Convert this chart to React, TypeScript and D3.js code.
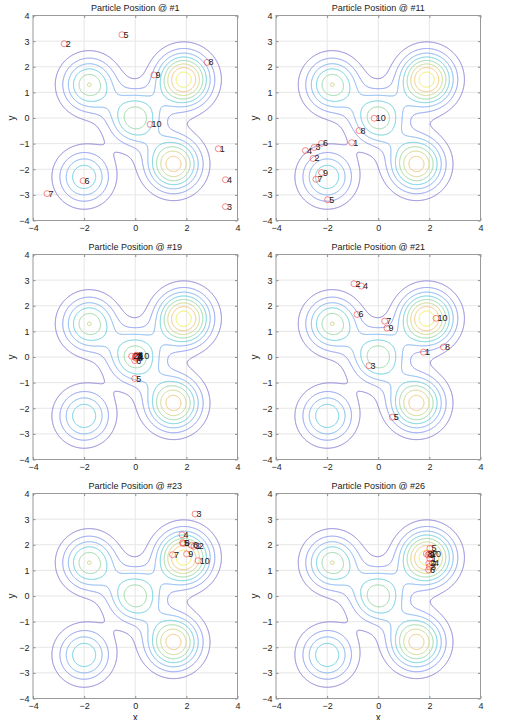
import React, { useRef, useEffect } from 'react';
import * as d3 from 'd3';

// surface = sum of gaussian bumps: a * exp(-r^2 / w)
const peakX = [1.9, 1.5, 0, -1.8, -2.0, -1.8];
const peakY = [1.5, -1.8, 0, 1.3, -2.3, 1.3];
const peakA = [8.7, 7.6, 5.8, 5.85, 4.9, 0.5];
const peakW = [1, 1, 1, 1, 1, 0.004];

const levels = [1, 2, 3, 4, 5, 6, 7, 8];
const levelColors = ['#857bd4', '#8494f0', '#7ab0f2', '#62cde0', '#96d8a4', '#cdd884', '#f6c67a', '#f4ee5e'];

const xTicks = [-4, -2, 0, 2, 4];
const yTicks = [-4, -3, -2, -1, 0, 1, 2, 3, 4];

const iterations = [1, 11, 19, 21, 23, 26];

const pos1X = [3.25, -2.78, 3.53, 3.53, -0.52, -2.04, -3.45, 2.81, 0.73, 0.58];
const pos1Y = [-1.2, 2.9, -3.46, -2.41, 3.25, -2.45, -2.95, 2.17, 1.68, -0.25];
const pos11X = [-1.04, -2.55, -2.51, -2.85, -1.98, -2.22, -2.44, -0.75, -2.22, -0.16];
const pos11Y = [-0.96, -1.58, -1.15, -1.27, -3.19, -0.99, -2.39, -0.49, -2.13, -0.01];
const pos19X = [0.04, -0.14, 0.02, 0.06, -0.02, -0.02, 0.0, 0.05, 0.03, 0.1];
const pos19Y = [0.03, 0.03, 0.05, -0.02, -0.84, -0.14, 0.0, 0.07, -0.05, 0.03];
const pos21X = [1.77, -0.95, -0.36, -0.66, 0.55, -0.83, 0.25, 2.55, 0.34, 2.26];
const pos21Y = [0.19, 2.86, -0.34, 2.77, -2.35, 1.66, 1.4, 0.39, 1.13, 1.51];
const pos23X = [2.3, 2.43, 2.34, 1.83, 1.85, 2.2, 1.46, 1.88, 2.01, 2.46];
const pos23Y = [1.94, 1.96, 3.2, 2.39, 2.08, 1.98, 1.61, 2.05, 1.64, 1.38];
const pos26X = [2.02, 1.98, 2.0, 2.12, 2.02, 1.97, 2.05, 1.88, 1.95, 2.0];
const pos26Y = [1.45, 1.27, 1.15, 1.28, 1.86, 1.02, 1.62, 1.65, 1.6, 1.65];

const panelX = [pos1X, pos11X, pos19X, pos21X, pos23X, pos26X];
const panelY = [pos1Y, pos11Y, pos19Y, pos21Y, pos23Y, pos26Y];

const colLeft = [33, 276];
const rowTop = [15.5, 254.5, 493.5];
const plotW = 204.5;
const plotH = 205;
const font = 'Liberation Sans, Arial, sans-serif';

const App = () => {
    const svgRef = useRef(null);

    useEffect(() => {
        const svg = d3.select(svgRef.current);
        svg.selectAll('*').remove();

        // sample the surface once, every panel reuses it
        const n = 481;
        const grid = d3.scaleLinear().domain([0.5, n - 0.5]).range([-4, 4]);
        const values = new Float64Array(n * n);
        for (let j = 0; j < n; j++) {
            const yv = grid(j + 0.5);
            for (let i = 0; i < n; i++) {
                const xv = grid(i + 0.5);
                let s = 0;
                for (let k = 0; k < peakA.length; k++) {
                    const dx = xv - peakX[k], dy = yv - peakY[k];
                    s += peakA[k] * Math.exp(-(dx * dx + dy * dy) / peakW[k]);
                }
                values[j * n + i] = s;
            }
        }
        const contours = d3.contours().size([n, n]).thresholds(levels)(Array.from(values));

        iterations.forEach((it, p) => {
            const col = p % 2, row = Math.floor(p / 2);
            const x = d3.scaleLinear().domain([-4, 4]).range([0, plotW]);
            const y = d3.scaleLinear().domain([-4, 4]).range([plotH, 0]);
            const g = svg.append('g').attr('transform', `translate(${colLeft[col]},${rowTop[row]})`);

            g.append('rect').attr('width', plotW).attr('height', plotH).attr('fill', '#fff');

            // grid
            g.selectAll('.gx').data(xTicks.slice(1, -1)).join('line')
                .attr('x1', d => x(d)).attr('x2', d => x(d)).attr('y1', 0).attr('y2', plotH)
                .attr('stroke', '#e6e6e6');
            g.selectAll('.gy').data(yTicks.slice(1, -1)).join('line')
                .attr('y1', d => y(d)).attr('y2', d => y(d)).attr('x1', 0).attr('x2', plotW)
                .attr('stroke', '#e6e6e6');

            // contours
            const proj = d3.geoTransform({
                point: function (px, py) { this.stream.point(x(grid(px)), y(grid(py))); }
            });
            const path = d3.geoPath(proj);
            g.selectAll('.ct').data(contours).join('path')
                .attr('d', d => path(d))
                .attr('fill', 'none')
                .attr('stroke', (d, i) => levelColors[i])
                .attr('stroke-width', 1);

            // axes
            const tickStyle = sel => sel
                .call(a => a.select('.domain').remove())
                .call(a => a.selectAll('line').attr('stroke', '#8c8c8c'))
                .call(a => a.selectAll('text').attr('fill', '#262626').style('font-size', '9px').style('font-family', font));

            g.append('g').attr('transform', `translate(0,${plotH})`)
                .call(d3.axisBottom(x).tickValues(xTicks).tickSizeInner(-2.5).tickSizeOuter(0).tickPadding(4))
                .call(tickStyle);
            g.append('g')
                .call(d3.axisTop(x).tickValues(xTicks).tickSizeInner(-2.5).tickSizeOuter(0).tickFormat(() => ''))
                .call(tickStyle);
            g.append('g')
                .call(d3.axisLeft(y).tickValues(yTicks).tickSizeInner(-2.5).tickSizeOuter(0).tickPadding(3.5))
                .call(tickStyle);
            g.append('g').attr('transform', `translate(${plotW},0)`)
                .call(d3.axisRight(y).tickValues(yTicks).tickSizeInner(-2.5).tickSizeOuter(0).tickFormat(() => ''))
                .call(tickStyle);

            g.append('rect').attr('width', plotW).attr('height', plotH)
                .attr('fill', 'none').attr('stroke', '#9a9a9a').attr('stroke-width', 1);

            // particles
            const xs = panelX[p], ys = panelY[p];
            const idx = d3.range(xs.length);
            g.selectAll('.pt').data(idx).join('circle')
                .attr('cx', i => x(xs[i])).attr('cy', i => y(ys[i])).attr('r', 3)
                .attr('fill', 'none').attr('stroke', '#f03c3c').attr('stroke-opacity', 0.75).attr('stroke-width', 0.8);
            g.selectAll('.lb').data(idx).join('text')
                .attr('x', i => x(xs[i]) + 1.5).attr('y', i => y(ys[i]))
                .attr('dominant-baseline', 'central')
                .attr('fill', '#1a1a1a').style('font-size', '9px').style('font-family', font)
                .text(i => i + 1);

            // title & labels
            g.append('text').attr('x', plotW / 2).attr('y', -4.5).attr('text-anchor', 'middle')
                .attr('fill', '#1a1a1a').style('font-size', '9px').style('font-family', font)
                .text(`Particle Position @ #${it}`);
            g.append('text').attr('transform', `translate(-18.5,${plotH / 2}) rotate(-90)`)
                .attr('text-anchor', 'middle')
                .attr('fill', '#262626').style('font-size', '10px').style('font-family', font)
                .text('y');
            if (row === 2) {
                g.append('text').attr('x', plotW / 2).attr('y', plotH + 22).attr('text-anchor', 'middle')
                    .attr('fill', '#262626').style('font-size', '10px').style('font-family', font)
                    .text('x');
            }
        });
    }, []);

    return (
        <svg ref={svgRef} width={507} height={720}
            style={{ position: 'absolute', left: 0, top: 0, background: '#fff' }} />
    );
};

export default App;
